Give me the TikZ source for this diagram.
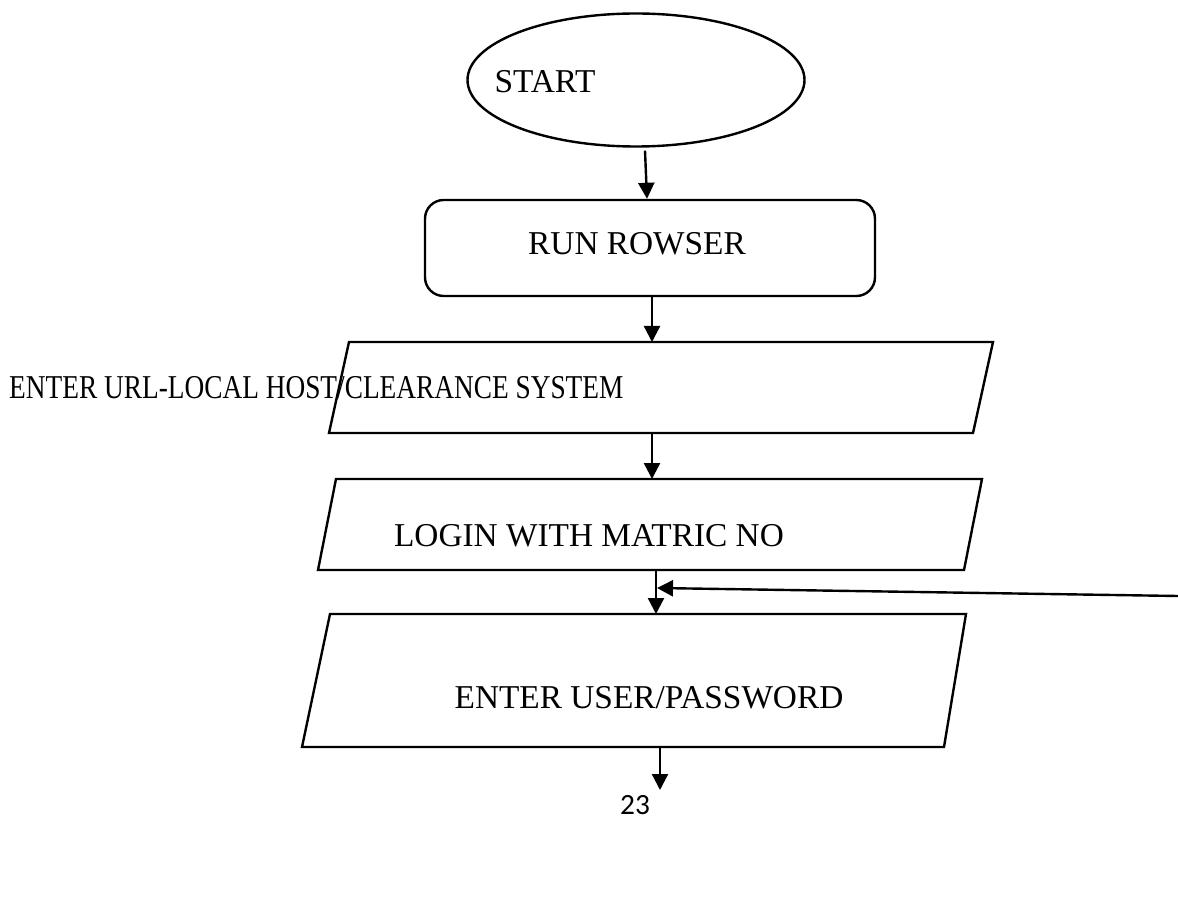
\documentclass[tikz,border=0pt]{standalone}
\usepackage{fontspec}
\setmainfont{Liberation Serif}
\newfontfamily\pagefont{Carlito}
\usetikzlibrary{arrows.meta,shapes.geometric,calc}
\begin{document}
\begin{tikzpicture}[x=0.75pt,y=-0.75pt,
  line width=1.8pt,
  arr/.style={-{Triangle[length=12pt,width=12pt]}},
  lbl/.style={inner sep=0pt,font=\fontsize{25}{30}\selectfont},
  flowbox/.style={draw,line width=1.8pt}]
\useasboundingbox (0,0) rectangle (1178,898);
% start ellipse
\node[ellipse,draw,minimum width=252.75pt,minimum height=99.75pt,inner sep=0pt] (start) at (636,80) {};
\node[lbl] (starttxt) at (545,82) {START};
% run browser
\node[draw,rounded corners=14pt,minimum width=337.5pt,minimum height=72pt,inner sep=0pt] (run) at (650,248) {};
\node[lbl] (runtxt) at (637,244) {RUN ROWSER};
% parallelogram 1
\draw[flowbox] (349,342) -- (993,342) -- (973,433) -- (329,433) -- cycle;
\coordinate (p1n) at (652,342);
\coordinate (p1s) at (652,433);
\node[lbl,anchor=west] (urltxt) at (8,388) {\scalebox{0.82}[1]{ENTER URL-LOCAL HOST/CLEARANCE SYSTEM}};
% parallelogram 2
\draw[flowbox] (336,479) -- (982,479) -- (964,570) -- (318,570) -- cycle;
\coordinate (p2n) at (652,479);
\coordinate (p2s) at (656,570);
\node[lbl] (logintxt) at (589,536) {LOGIN WITH MATRIC NO};
% parallelogram 3
\draw[flowbox] (330,614) -- (966,614) -- (944,747) -- (302,747) -- cycle;
\coordinate (p3n) at (656,614);
\coordinate (p3s) at (660,747);
\node[lbl] (usertxt) at (649,698) {ENTER USER/PASSWORD};
% connectors
\draw[arr] ($(start.south)+(9,3)$) -- ($(run.north)+(-3,0)$);
\draw[arr] ($(run.south)+(2,0)$) -- (p1n);
\draw[arr] (p1s) -- (p2n);
\draw[arr] (p2s) -- (p3n);
\coordinate (fbfrom) at (1178,596);
\coordinate (fbto) at (657,588);
\draw[arr] (fbfrom) -- (fbto);
\coordinate (down) at (660,790);
\draw[arr] (p3s) -- (down);
\node[inner sep=0pt,font=\pagefont\fontsize{22}{26}\selectfont] (pageno) at (635,805) {23};
\end{tikzpicture}
\end{document}
